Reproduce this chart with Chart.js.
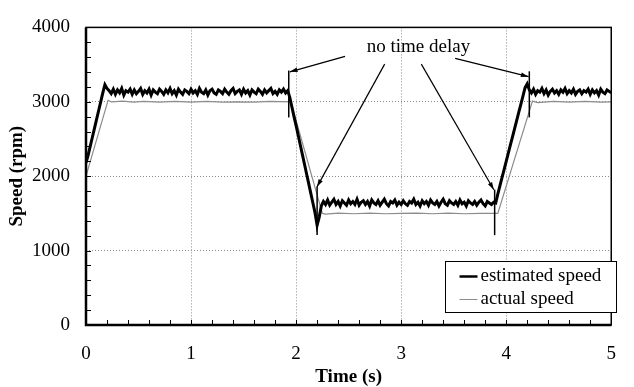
<!DOCTYPE html>
<html>
<head>
<meta charset="utf-8">
<script src="https://cdn.jsdelivr.net/npm/chart.js@4"></script>
<style>
  html, body { margin: 0; padding: 0; background: #fff; }
  #wrap { width: 634px; height: 387px; }
</style>
</head>
<body>
<div id="wrap"><canvas id="speedChart"></canvas></div>
<script>
// sample interval of the estimated speed trace (s)
const DT = 0.02;

// estimated speed (rpm), one value every DT seconds from t = 0
const estimatedSpeed = [
  2180, 2280, 2400, 2520, 2640, 2760, 2880, 3000, 3120, 3230, 3180,
  3150, 3110, 3170, 3100, 3160, 3120, 3180, 3090, 3150, 3130,
  3170, 3100, 3160, 3110, 3140, 3180, 3100, 3150, 3120, 3170,
  3090, 3160, 3130, 3110, 3170, 3140, 3100, 3160, 3120, 3180,
  3110, 3150, 3090, 3170, 3130, 3100, 3160, 3140, 3110, 3170,
  3120, 3150, 3100, 3180, 3130, 3110, 3160, 3090, 3150, 3170,
  3120, 3100, 3160, 3140, 3110, 3170, 3130, 3100, 3150, 3180,
  3110, 3140, 3160, 3100, 3170, 3120, 3150, 3090, 3160, 3130,
  3110, 3170, 3140, 3100, 3160, 3120, 3150, 3180, 3110, 3140,
  3100, 3160, 3130, 3170, 3120, 3150,
  3060, 2930, 2800, 2680, 2550, 2420, 2290, 2160, 2030, 1900, 1770, 1640, 1510, 1340,
  1450, 1600,
  1660, 1620, 1680, 1610, 1650, 1690, 1620, 1660, 1600, 1670,
  1640, 1610, 1680, 1630, 1660, 1620, 1690, 1610, 1650, 1670,
  1620, 1660, 1600, 1680, 1640, 1620, 1670, 1610, 1650, 1690,
  1630, 1600, 1660, 1640, 1680, 1610, 1650, 1620, 1670, 1630,
  1610, 1660, 1640, 1690, 1620, 1650, 1600, 1670, 1630, 1660,
  1610, 1680, 1640, 1620, 1660, 1600, 1650, 1690, 1630, 1610,
  1670, 1640, 1620, 1660, 1610, 1680, 1630, 1650, 1600, 1670,
  1640, 1620, 1660, 1610, 1650, 1680, 1630, 1600, 1660, 1640,
  1620, 1650,
  1640, 1760, 1870, 1980, 2090, 2200, 2310, 2420, 2530, 2640, 2750, 2860, 2970, 3080, 3190, 3240, 3160,
  3120, 3170, 3100, 3150, 3130, 3180, 3110, 3160, 3090, 3140,
  3170, 3120, 3150, 3100, 3160, 3130, 3180, 3110, 3150, 3120,
  3170, 3100, 3140, 3160, 3110, 3150, 3130, 3170, 3100, 3160,
  3120, 3150, 3090, 3170, 3130, 3110, 3160, 3140, 3120
];

// actual speed: time (s) and speed (rpm)
const actualTime = [0, 0.21, 0.24, 0.35, 0.45, 0.55, 0.7, 0.85, 1.0, 1.15, 1.3, 1.45, 1.6, 1.75, 1.95,
  2.25, 2.28, 2.4, 2.55, 2.7, 2.85, 3.0, 3.15, 3.3, 3.45, 3.6, 3.75, 3.92,
  4.25, 4.3, 4.45, 4.6, 4.75, 4.9, 5.0];
const actualSpeed = [2000, 3020, 3000, 3010, 2995, 3005, 2995, 3005, 2995, 3005, 2995, 3000, 2995, 3005, 3000,
  1500, 1490, 1505, 1495, 1505, 1495, 1500, 1505, 1495, 1505, 1495, 1500, 1500,
  3010, 2990, 3005, 2995, 3005, 2995, 3000];

const seriesLabels = ['estimated speed', 'actual speed'];
const xTicks = [0, 1, 2, 3, 4, 5];
const yTicks = [0, 1000, 2000, 3000, 4000];

// "no time delay" annotation: label position, arrow tails and heads, marker lines
const noteText = 'no time delay';
const notePos = [3.165, 3740];
const arrowFrom = [[2.466, 3610], [2.843, 3506], [3.192, 3506], [3.514, 3584]];
const arrowTo = [[1.941, 3403], [2.199, 1857], [3.882, 1818], [4.213, 3338]];
const markerT = [1.93, 2.20, 3.89, 4.22];
const markerTop = [3420, 1860, 1820, 3410];
const markerBottom = [2790, 1208, 1208, 2790];

const estimatedPoints = estimatedSpeed.map((v, i) => ({ x: +(i * DT).toFixed(2), y: v }));
const actualPoints = actualTime.map((t, i) => ({ x: t, y: actualSpeed[i] }));

const SERIF = "'Liberation Serif', 'Times New Roman', serif";
Chart.defaults.font.family = SERIF;
Chart.defaults.color = '#000';

const overlay = {
  id: 'overlay',
  afterDraw(chart) {
    const { ctx, chartArea: a, scales: { x, y } } = chart;
    ctx.save();

    // minor ticks pointing into the plot
    ctx.strokeStyle = '#000';
    ctx.lineWidth = 1;
    ctx.beginPath();
    for (let v = 0; v <= 4000; v += 200) {
      const py = Math.round(y.getPixelForValue(v)) + 0.5;
      ctx.moveTo(a.left, py); ctx.lineTo(a.left + 5, py);
    }
    for (let k = 0; k <= 25; k++) {
      const px = Math.round(x.getPixelForValue(k * 0.2)) + 0.5;
      ctx.moveTo(px, a.bottom); ctx.lineTo(px, a.bottom - 5);
    }
    ctx.stroke();

    // frame
    ctx.lineWidth = 1.5;
    ctx.strokeRect(a.left, a.top, a.right - a.left, a.bottom - a.top);
    ctx.lineWidth = 2.5;
    ctx.beginPath();
    ctx.moveTo(a.left, a.top); ctx.lineTo(a.left, a.bottom); ctx.lineTo(a.right, a.bottom);
    ctx.stroke();

    // annotation
    ctx.font = '19px ' + SERIF;
    ctx.fillStyle = '#000';
    ctx.textAlign = 'center';
    ctx.textBaseline = 'middle';
    ctx.fillText(noteText, x.getPixelForValue(notePos[0]), y.getPixelForValue(notePos[1]));

    ctx.lineWidth = 1.2;
    arrowFrom.forEach((p, i) => {
      const x0 = x.getPixelForValue(p[0]), y0 = y.getPixelForValue(p[1]);
      const x1 = x.getPixelForValue(arrowTo[i][0]), y1 = y.getPixelForValue(arrowTo[i][1]);
      ctx.beginPath(); ctx.moveTo(x0, y0); ctx.lineTo(x1, y1); ctx.stroke();
      const ang = Math.atan2(y1 - y0, x1 - x0);
      ctx.beginPath();
      ctx.moveTo(x1, y1);
      ctx.lineTo(x1 - 8 * Math.cos(ang - 0.3), y1 - 8 * Math.sin(ang - 0.3));
      ctx.lineTo(x1 - 8 * Math.cos(ang + 0.3), y1 - 8 * Math.sin(ang + 0.3));
      ctx.closePath(); ctx.fill();
    });
    ctx.lineWidth = 1.5;
    markerT.forEach((t, i) => {
      const px = x.getPixelForValue(t);
      ctx.beginPath();
      ctx.moveTo(px, y.getPixelForValue(markerTop[i]));
      ctx.lineTo(px, y.getPixelForValue(markerBottom[i]));
      ctx.stroke();
    });

    // legend box
    const bx = 445.5, by = 261.5, bw = 171, bh = 51;
    ctx.fillStyle = '#fff';
    ctx.fillRect(bx, by, bw, bh);
    ctx.strokeStyle = '#000';
    ctx.lineWidth = 1;
    ctx.strokeRect(bx, by, bw, bh);
    ctx.textAlign = 'left';
    chart.data.datasets.forEach((ds, i) => {
      const ly = by + 15 + i * 23;
      ctx.strokeStyle = ds.borderColor;
      ctx.lineWidth = i === 0 ? 2.5 : 1;
      ctx.beginPath(); ctx.moveTo(bx + 14, ly); ctx.lineTo(bx + 32, ly); ctx.stroke();
      ctx.fillStyle = '#000';
      ctx.fillText(ds.label, bx + 35, ly);
    });
    ctx.restore();
  }
};

new Chart(document.getElementById('speedChart'), {
  type: 'line',
  data: {
    datasets: [
      { label: seriesLabels[0], data: estimatedPoints, borderColor: '#000', borderWidth: 3,
        pointRadius: 0, tension: 0, order: 1 },
      { label: seriesLabels[1], data: actualPoints, borderColor: '#8c8c8c', borderWidth: 1.2,
        pointRadius: 0, tension: 0, order: 2 }
    ]
  },
  options: {
    responsive: true,
    maintainAspectRatio: false,
    animation: false,
    layout: { padding: { left: 0, right: 4, top: 17, bottom: 0 } },
    plugins: { legend: { display: false }, tooltip: { enabled: false } },
    scales: {
      x: {
        type: 'linear', min: 0, max: 5,
        afterFit: s => { s.height = 62; },
        afterBuildTicks: s => { s.ticks = xTicks.map(v => ({ value: v })); },
        ticks: { font: { size: 19 }, padding: 18, maxRotation: 0, callback: v => String(v) },
        grid: { color: '#8a8a8a', lineWidth: 1, drawTicks: false },
        border: { display: false, dash: [1, 2] },
        title: { display: true, text: 'Time (s)', font: { size: 19, weight: 'bold', lineHeight: 1 },
          padding: { top: 0, bottom: 0 } }
      },
      y: {
        min: 0, max: 4000,
        afterFit: s => { s.width = 86; },
        afterBuildTicks: s => { s.ticks = yTicks.map(v => ({ value: v })); },
        ticks: { font: { size: 19 }, padding: 16, callback: v => String(v) },
        grid: { color: '#8a8a8a', lineWidth: 1, drawTicks: false },
        border: { display: false, dash: [1, 2] },
        title: { display: true, text: 'Speed (rpm)', font: { size: 19, weight: 'bold' },
          padding: { top: 6, bottom: 0 } }
      }
    }
  },
  plugins: [overlay]
});
</script>
</body>
</html>
